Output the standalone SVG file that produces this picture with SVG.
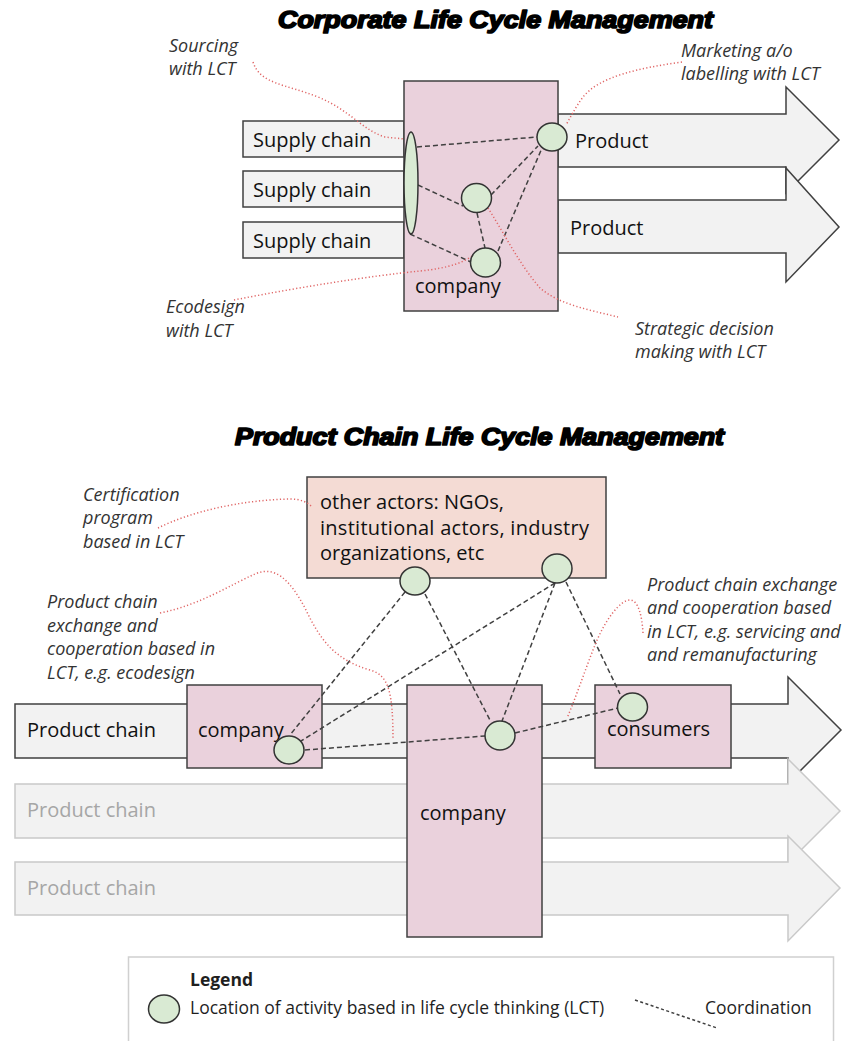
<svg xmlns="http://www.w3.org/2000/svg" width="861" height="1041" viewBox="0 0 861 1041">
<style>
.title{font-family:"Liberation Sans",Arial,sans-serif;font-weight:bold;font-style:italic;font-size:23px;fill:#000;stroke:#000;stroke-width:1.7px;stroke-linejoin:round}
.lbl{font-family:"Open Sans","Liberation Sans",sans-serif;font-size:20px;fill:#111}
.lblg{font-family:"Open Sans","Liberation Sans",sans-serif;font-size:20px;fill:#a6a6a6}
.note{font-family:"Open Sans","Liberation Sans",sans-serif;font-size:18px;font-style:italic;fill:#333}
.leg{font-family:"Open Sans","Liberation Sans",sans-serif;font-size:17.5px;fill:#1f1f1f}
.arrow{fill:#f2f2f2;stroke:#404040;stroke-width:1.5}
.arrowg{fill:#f2f2f2;stroke:#c9c9c9;stroke-width:1.5}
.box{fill:#ead1dc;stroke:#404040;stroke-width:1.5}
.actors{fill:#f4dbd4;stroke:#404040;stroke-width:1.5}
.sc{fill:#f2f2f2;stroke:#404040;stroke-width:1.5}
.act{fill:#d9ead3;stroke:#333;stroke-width:1.5}
.coord{fill:none;stroke:#404040;stroke-width:1.5;stroke-dasharray:5 3}
.note-line{fill:none;stroke:#e06666;stroke-width:1.5;stroke-dasharray:1.2 2.3}
</style>

<!-- Titles -->
<text class="title" x="278" y="28" textLength="435" lengthAdjust="spacingAndGlyphs">Corporate Life Cycle Management</text>
<text class="title" x="235" y="445" textLength="489" lengthAdjust="spacingAndGlyphs">Product Chain Life Cycle Management</text>

<!-- Top section: arrows -->
<g id="product-arrow-1"><path class="arrow" d="M558,114 L786,114 L786,87 L839,140 L786,193 L786,167 L558,167 Z"/><text class="lbl" x="575" y="148">Product</text></g>
<g id="product-arrow-2"><path class="arrow" d="M558,200 L786,200 L786,168 L839,227 L786,282 L786,253 L558,253 Z"/><text class="lbl" x="570" y="235">Product</text></g>

<g id="supply-chain-1"><rect class="sc" x="243" y="121" width="161" height="36"/><text class="lbl" x="253" y="147">Supply chain</text></g>
<g id="supply-chain-2"><rect class="sc" x="243" y="171" width="161" height="36"/><text class="lbl" x="253" y="197">Supply chain</text></g>
<g id="supply-chain-3"><rect class="sc" x="243" y="222" width="161" height="36"/><text class="lbl" x="253" y="248">Supply chain</text></g>

<g id="company-top"><rect class="box" x="404" y="81" width="154" height="230"/><text class="lbl" x="415" y="293">company</text></g>

<!-- Bottom section: arrows -->
<g id="product-chain-main"><path class="arrow" d="M15,704 L788,704 L788,677 L841,730 L788,783 L788,758 L15,758 Z"/><text class="lbl" x="27" y="737">Product chain</text></g>
<g id="product-chain-2"><path class="arrowg" d="M15,784 L788,784 L788,759 L840,811 L788,863 L788,838 L15,838 Z"/><text class="lblg" x="27" y="817">Product chain</text></g>
<g id="product-chain-3"><path class="arrowg" d="M15,862 L788,862 L788,836 L840,888 L788,941 L788,915 L15,915 Z"/><text class="lblg" x="27" y="895">Product chain</text></g>

<g id="other-actors"><rect class="actors" x="307" y="477" width="299" height="101"/>
<text class="lbl" x="320" y="509">other actors: NGOs,</text>
<text class="lbl" x="320" y="535" textLength="269">institutional actors, industry</text>
<text class="lbl" x="320" y="560">organizations, etc</text></g>

<g id="company-small"><rect class="box" x="187" y="685" width="135" height="83"/><text class="lbl" x="198" y="737">company</text></g>
<g id="company-big"><rect class="box" x="407" y="685" width="135" height="252"/><text class="lbl" x="420" y="820">company</text></g>
<g id="consumers"><rect class="box" x="595" y="685" width="136" height="83"/><text class="lbl" x="607" y="736">consumers</text></g>

<!-- Connectors -->
<g id="connectors">
  <!-- top coordination -->
  <line class="coord" x1="417" y1="147" x2="537" y2="137"/>
  <line class="coord" x1="418" y1="185" x2="463" y2="206"/>
  <line class="coord" x1="410" y1="234" x2="471" y2="262"/>
  <line class="coord" x1="491" y1="195" x2="538" y2="146"/>
  <line class="coord" x1="498" y1="251" x2="542" y2="148"/>
  <line class="coord" x1="477" y1="213" x2="485" y2="248"/>
  <!-- bottom coordination -->
  <line class="coord" x1="405" y1="592" x2="290" y2="735"/>
  <line class="coord" x1="555" y1="583" x2="301" y2="741"/>
  <line class="coord" x1="305" y1="750" x2="485" y2="736"/>
  <line class="coord" x1="425" y1="594" x2="491" y2="722"/>
  <line class="coord" x1="555" y1="583" x2="502" y2="721"/>
  <line class="coord" x1="566" y1="582" x2="620" y2="694"/>
  <line class="coord" x1="515" y1="733" x2="618" y2="708"/>
  <!-- note leaders -->
  <path class="note-line" d="M253,62 C260,84 285,84 318,97 C350,110 362,130 385,137 L404,139"/>
  <path class="note-line" d="M682,62 C640,68 600,76 583,97 C575,108 570,118 566,125"/>
  <path class="note-line" d="M234,300 C300,287 370,276 420,271 C450,268 465,262 475,254"/>
  <path class="note-line" d="M488,208 C505,235 520,265 540,288 C560,305 590,310 618,317"/>
  <path class="note-line" d="M158,528 C190,512 240,500 290,499 C300,499 308,502 312,507"/>
  <path class="note-line" d="M160,613 C200,605 230,585 255,574 C275,565 290,580 305,608 C320,640 335,660 370,670 C388,675 393,690 393,740"/>
  <path class="note-line" d="M643,633 C642,615 638,600 630,600 C620,600 605,620 595,645 C585,670 575,700 567,718"/>
</g>

<!-- LCT activity locations -->
<g id="lct-sourcing"><ellipse class="act" cx="411" cy="183" rx="7" ry="51"/></g>
<g id="lct-marketing"><ellipse class="act" cx="552" cy="137" rx="15" ry="14"/></g>
<g id="lct-strategic"><ellipse class="act" cx="476.5" cy="198" rx="15" ry="14.5"/></g>
<g id="lct-ecodesign"><ellipse class="act" cx="485.5" cy="262.5" rx="15" ry="14.5"/></g>
<g id="lct-actors-1"><ellipse class="act" cx="415" cy="581" rx="15" ry="14"/></g>
<g id="lct-actors-2"><ellipse class="act" cx="557" cy="568.5" rx="15" ry="14.5"/></g>
<g id="lct-company-small"><ellipse class="act" cx="289" cy="750" rx="15" ry="14"/></g>
<g id="lct-company-big"><ellipse class="act" cx="500" cy="735.5" rx="15" ry="14.5"/></g>
<g id="lct-consumers"><ellipse class="act" cx="632.5" cy="707" rx="15" ry="14"/></g>

<!-- Notes -->
<g id="note-sourcing"><text class="note" x="169" y="52">Sourcing</text><text class="note" x="169" y="75">with LCT</text></g>
<g id="note-marketing"><text class="note" x="681" y="57">Marketing a/o</text><text class="note" x="681" y="80">labelling with LCT</text></g>
<g id="note-ecodesign"><text class="note" x="166" y="313">Ecodesign</text><text class="note" x="166" y="337">with LCT</text></g>
<g id="note-strategic"><text class="note" x="635" y="335">Strategic decision</text><text class="note" x="635" y="358">making with LCT</text></g>
<g id="note-certification"><text class="note" x="83" y="501">Certification</text><text class="note" x="83" y="524">program</text><text class="note" x="83" y="548">based in LCT</text></g>
<g id="note-exchange-left"><text class="note" x="47" y="608">Product chain</text><text class="note" x="47" y="632">exchange and</text><text class="note" x="47" y="655">cooperation based in</text><text class="note" x="47" y="679">LCT, e.g. ecodesign</text></g>
<g id="note-exchange-right"><text class="note" x="647" y="591">Product chain exchange</text><text class="note" x="647" y="614">and cooperation based</text><text class="note" x="647" y="638">in LCT, e.g. servicing and</text><text class="note" x="647" y="661">and remanufacturing</text></g>

<!-- Legend -->
<g id="legend">
  <rect x="128.5" y="957" width="705" height="100" fill="#fff" stroke="#d0d0d0" stroke-width="1.5"/>
  <text class="leg" x="190" y="986" font-weight="bold">Legend</text>
  <ellipse class="act" cx="164" cy="1009" rx="15.5" ry="14"/>
  <text class="leg" x="190" y="1014">Location of activity based in life cycle thinking (LCT)</text>
  <line x1="635" y1="1000" x2="717" y2="1028" stroke="#404040" stroke-width="1.5" stroke-dasharray="3 2.5"/>
  <text class="leg" x="705" y="1014">Coordination</text>
</g>
</svg>
